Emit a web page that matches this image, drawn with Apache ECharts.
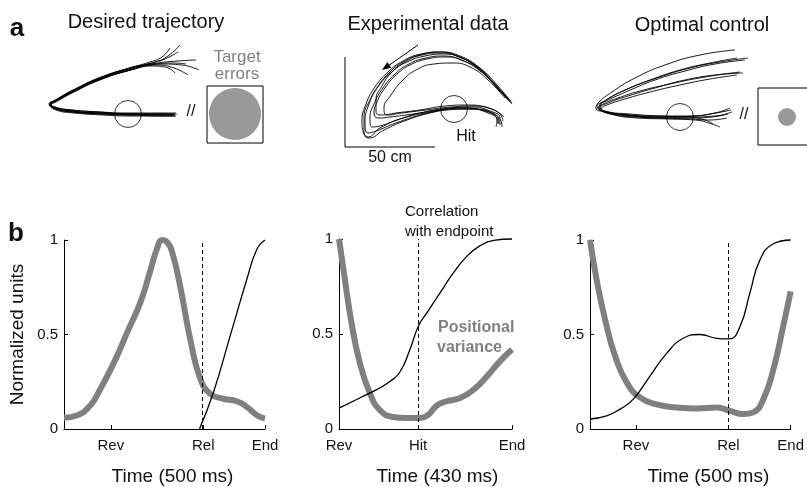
<!DOCTYPE html>
<html><head><meta charset="utf-8">
<script src="https://cdn.jsdelivr.net/npm/echarts@6/dist/echarts.min.js"></script>
<style>html,body{margin:0;padding:0;background:#fff}#c{width:807px;height:487px}</style>
</head><body><div id="c"></div>
<script>
// ---------- panel b data (time normalised 0..1 within each movement) ----------
const ticks1 = [0.233, 0.693, 1];  const tickNames1 = ['Rev', 'Rel', 'End'];
const ticks2 = [0, 0.457, 1];      const tickNames2 = ['Rev', 'Hit', 'End'];
const ticks3 = [0.229, 0.69, 1];   const tickNames3 = ['Rev', 'Rel', 'End'];
const yTicks = [0, 0.5, 1];        const yTickNames = ['0', '0.5', '1'];
const xTitles = ['Time (500 ms)', 'Time (430 ms)', 'Time (500 ms)'];
const eventLine = [0.693, 0.457, 0.69];

const var1X = [0, 0.066, 0.132, 0.18, 0.248, 0.314, 0.38, 0.43, 0.463, 0.488, 0.512, 0.537, 0.578, 0.628, 0.678, 0.727, 0.793, 0.86, 0.909, 0.96, 1.0];
const var1Y = [0.06, 0.073, 0.126, 0.21, 0.35, 0.51, 0.67, 0.84, 0.955, 1.0, 0.99, 0.94, 0.755, 0.475, 0.266, 0.187, 0.16, 0.147, 0.117, 0.073, 0.056];
const corr1X = [0.674, 0.744, 0.826, 0.909, 0.959, 1.0];
const corr1Y = [0, 0.196, 0.49, 0.79, 0.95, 1.0];

const var2X = [0, 0.029, 0.072, 0.12, 0.178, 0.236, 0.313, 0.39, 0.468, 0.516, 0.565, 0.623, 0.70, 0.778, 0.855, 0.93, 1.0];
const var2Y = [1.0, 0.82, 0.56, 0.35, 0.19, 0.10, 0.063, 0.058, 0.058, 0.075, 0.123, 0.146, 0.163, 0.207, 0.277, 0.356, 0.418];
const corr2X = [0, 0.12, 0.217, 0.294, 0.352, 0.41, 0.458, 0.507, 0.584, 0.66, 0.74, 0.816, 0.894, 1.0];
const corr2Y = [0.11, 0.163, 0.207, 0.25, 0.30, 0.418, 0.54, 0.61, 0.716, 0.82, 0.91, 0.965, 0.993, 1.0];

const var3X = [0, 0.033, 0.075, 0.125, 0.183, 0.249, 0.332, 0.432, 0.532, 0.631, 0.698, 0.764, 0.814, 0.864, 0.914, 0.963, 1.0];
const var3Y = [1.0, 0.79, 0.58, 0.386, 0.246, 0.167, 0.13, 0.114, 0.109, 0.114, 0.096, 0.079, 0.088, 0.158, 0.316, 0.544, 0.728];
const corr3X = [0, 0.083, 0.15, 0.216, 0.299, 0.382, 0.465, 0.548, 0.631, 0.694, 0.748, 0.797, 0.847, 0.914, 1.0];
const corr3Y = [0.053, 0.07, 0.105, 0.158, 0.28, 0.40, 0.48, 0.50, 0.48, 0.477, 0.544, 0.72, 0.895, 0.98, 1.0];

// ---------- panel a data (hand-traced hand paths, figure units) ----------
const desiredTraj = [
  [[180,45],[168,56],[155,62],[130,68],[100,78],[74,90],[56,100],[50,104],[55,108],[72,111],[100,113],[130,114],[160,114],[175,114]],
  [[178,52],[165,59],[152,63],[128,69],[99,79],[73,91],[55,101],[50,105],[56,109],[73,112],[101,114],[131,115],[160,115],[174,115]],
  [[196,60],[178,61],[158,63],[131,68],[101,77],[75,89],[57,99],[51,104],[55,107],[72,110],[100,112],[130,113],[160,113],[176,113]],
  [[199,70],[182,65],[160,64],[132,69],[102,78],[76,90],[57,100],[50,103],[54,107],[71,110],[99,112],[129,114],[161,114],[175,115]],
  [[186,64],[172,63],[156,64],[130,70],[100,80],[74,92],[56,102],[51,105],[56,109],[74,112],[102,114],[132,115],[162,116],[176,116]],
  [[175,73],[165,67],[150,66],[127,71],[98,80],[72,92],[54,102],[50,105],[56,110],[74,113],[103,115],[133,116],[163,116],[175,116]],
  [[188,75],[174,68],[157,65],[131,70],[101,79],[75,91],[56,101],[50,104],[55,108],[73,112],[101,113],[131,114],[160,114],[177,114]],
  [[170,48],[162,57],[150,62],[126,69],[98,79],[72,91],[55,101],[49,104],[54,108],[71,111],[98,113],[129,114],[158,115],[173,115]]
];
const experimentalTraj = [
  [[512,103],[497,85],[480,68],[462,58],[445,54],[425,56],[407,62],[393,71],[380,84],[370,100],[364,117],[364,132],[368,137],[380,128],[400,119],[425,112],[450,108],[472,107],[490,111],[500,118],[500,125]],
  [[510,102],[494,84],[477,67],[459,57],[441,53],[422,55],[405,62],[392,72],[382,86],[376,100],[376,112],[381,115],[396,113],[420,110],[445,106],[468,105],[488,108],[500,114],[503,121]],
  [[508,100],[492,82],[475,66],[457,56],[439,52],[420,55],[403,62],[389,73],[377,88],[369,104],[365,122],[368,133],[376,131],[396,123],[421,115],[447,110],[470,109],[488,113],[497,120],[496,127]],
  [[511,101],[496,86],[479,70],[461,60],[444,56],[426,58],[409,64],[395,74],[383,88],[374,104],[370,118],[372,127],[380,126],[400,119],[425,113],[451,109],[476,109],[492,113],[501,121],[502,127]],
  [[505,98],[488,80],[470,67],[452,63],[434,64],[416,70],[402,81],[391,95],[384,108],[387,115],[402,113],[426,110],[451,107],[476,106],[494,110],[504,117]],
  [[509,100],[494,83],[478,67],[460,56],[441,52],[421,54],[403,61],[388,72],[375,87],[366,104],[362,121],[364,134],[369,138],[384,130],[407,120],[434,112],[460,108],[482,110],[496,117],[498,124]],
  [[512,104],[498,89],[482,72],[464,61],[446,57],[427,59],[410,65],[396,75],[385,88],[377,102],[374,113],[378,118],[390,117],[413,114],[439,110],[463,108],[485,111],[498,118],[499,124]]
];
const optimalTraj = [
  [[735,50],[700,55],[665,65],[635,78],[612,92],[598,103],[596,108],[605,112],[630,115],[660,116],[690,116],[715,113],[730,108]],
  [[748,58],[720,62],[690,68],[660,77],[630,88],[608,99],[600,106],[605,111],[630,114],[660,116],[690,117],[715,116],[732,112]],
  [[737,58],[710,63],[680,70],[650,80],[625,90],[606,100],[599,107],[606,112],[632,116],[662,118],[692,118],[712,117],[728,114]],
  [[743,73],[715,75],[685,80],[655,88],[628,96],[608,103],[600,108],[608,113],[635,117],[665,118],[690,119],[710,120],[727,118]],
  [[737,75],[710,79],[680,85],[650,92],[625,99],[607,105],[601,109],[610,114],[638,118],[668,119],[695,120],[712,124],[720,127]],
  [[745,60],[715,64],[685,71],[655,80],[628,91],[606,101],[597,106],[603,111],[628,115],[658,117],[688,117],[705,120],[713,124]],
  [[740,72],[705,77],[670,84],[640,91],[618,98],[603,104],[598,108],[607,112],[634,116],[664,117],[694,116],[716,113],[731,110]]
];
const targetPos = [[128,114],[454,109],[680,117]];
const errorLeft = [[235,114]];
const errorRight = [[787,117]];

// ---------- build chart ----------
const FONT = 'Liberation Sans, Arial, sans-serif';
const TXT = '#111';
const zip = (xs, ys) => xs.map((x, i) => [x, ys[i]]);
const grids = [
  {left: 64, top: 240, width: 201, height: 190},
  {left: 339, top: 239, width: 173, height: 190},
  {left: 590, top: 240, width: 201, height: 190}
];
const namePad = [16, 24, 36];
const xTicks = [ticks1, ticks2, ticks3];
const xNames = [tickNames1, tickNames2, tickNames3];

function nameOf(v, pos, names) {
  for (let i = 0; i < pos.length; i++) if (Math.abs(pos[i] - v) < 1e-6) return names[i];
  return '';
}

const grid = [{left: 0, top: 0, width: 807, height: 487}].concat(grids);
const xAxis = [{gridIndex: 0, type: 'value', min: 0, max: 807, show: false}];
const yAxis = [{gridIndex: 0, type: 'value', min: 0, max: 487, inverse: true, show: false}];
for (let g = 0; g < 3; g++) {
  xAxis.push({
    gridIndex: g + 1, type: 'value', min: 0, max: 1,
    name: xTitles[g], nameLocation: 'middle', nameGap: 38,
    nameTextStyle: {fontSize: 19, color: TXT, fontFamily: FONT, padding: [0, 0, 0, namePad[g]]},
    axisLine: {lineStyle: {color: '#000', width: 1}},
    axisTick: {show: true, inside: true, length: 4, customValues: xTicks[g], lineStyle: {color: '#000'}},
    axisLabel: {customValues: xTicks[g], formatter: v => nameOf(v, xTicks[g], xNames[g]),
      fontSize: 15, color: TXT, fontFamily: FONT, margin: 9},
    splitLine: {show: false}
  });
  yAxis.push({
    gridIndex: g + 1, type: 'value', min: 0, max: 1,
    name: g === 0 ? 'Normalized units' : '', nameLocation: 'middle', nameGap: 37,
    nameTextStyle: {fontSize: 19, color: TXT, fontFamily: FONT},
    axisLine: {show: true, lineStyle: {color: '#000', width: 1}},
    axisTick: {show: true, inside: true, length: 4, customValues: yTicks, lineStyle: {color: '#000'}},
    axisLabel: {customValues: yTicks, formatter: v => nameOf(v, yTicks, yTickNames),
      fontSize: 15, color: TXT, fontFamily: FONT, margin: 6},
    splitLine: {show: false}
  });
}

const series = [];
const trajStyle = {color: '#000', width: 0.9};
[desiredTraj, experimentalTraj, optimalTraj].forEach(set => set.forEach(tr => {
  series.push({type: 'line', xAxisIndex: 0, yAxisIndex: 0, data: tr, smooth: 0.5,
    showSymbol: false, silent: true, lineStyle: trajStyle, clip: false, z: 2});
}));
series.push({type: 'scatter', xAxisIndex: 0, yAxisIndex: 0, data: targetPos, symbol: 'circle', symbolSize: 27,
  itemStyle: {color: 'rgba(0,0,0,0)', borderColor: '#000', borderWidth: 1}, silent: true, z: 3});
series.push({type: 'scatter', xAxisIndex: 0, yAxisIndex: 0, data: errorLeft, symbol: 'circle', symbolSize: 52,
  itemStyle: {color: '#808080'}, silent: true, z: 3});
series.push({type: 'scatter', xAxisIndex: 0, yAxisIndex: 0, data: errorRight, symbol: 'circle', symbolSize: 18,
  itemStyle: {color: '#808080'}, silent: true, z: 3});

const varData = [zip(var1X, var1Y), zip(var2X, var2Y), zip(var3X, var3Y)];
const corrData = [zip(corr1X, corr1Y), zip(corr2X, corr2Y), zip(corr3X, corr3Y)];
for (let g = 0; g < 3; g++) {
  series.push({type: 'line', xAxisIndex: g + 1, yAxisIndex: g + 1, data: varData[g], smooth: 0.5,
    showSymbol: false, clip: false, silent: true,
    lineStyle: {color: '#808080', width: 6}, z: 3});
  series.push({type: 'line', xAxisIndex: g + 1, yAxisIndex: g + 1, data: corrData[g], smooth: 0.5,
    showSymbol: false, clip: false, silent: true,
    lineStyle: {color: '#000', width: 1.3}, z: 4,
    markLine: {symbol: 'none', silent: true, label: {show: false},
      lineStyle: {type: [4, 3], color: '#000', width: 1}, data: [{xAxis: eventLine[g]}]}});
}

const T = (text, x, y, size, opts) => Object.assign({type: 'text', z: 10, style: Object.assign({
  text, x, y, fill: TXT, fontSize: size, fontFamily: FONT, align: 'center', verticalAlign: 'middle'}, opts || {})});
const graphic = [
  T('a', 17, 29, 26, {fontWeight: 'bold'}),
  T('b', 16, 234, 26, {fontWeight: 'bold'}),
  T('Desired trajectory', 146, 22, 20),
  T('Experimental data', 428, 24, 20),
  T('Optimal control', 702, 25, 20),
  T('Target', 237, 57, 17, {fill: '#808080'}),
  T('errors', 237, 74, 17, {fill: '#808080'}),
  T('//', 191, 112, 16),
  T('//', 744, 115, 16),
  T('Hit', 466, 137, 16),
  T('50 cm', 390, 158, 16),
  T('Correlation', 405, 212, 15, {align: 'left'}),
  T('with endpoint', 405, 232, 15, {align: 'left'}),
  T('Positional', 438, 328, 16, {align: 'left', fill: '#808080', fontWeight: 'bold'}),
  T('variance', 437, 348, 16, {align: 'left', fill: '#808080', fontWeight: 'bold'}),
  {type: 'rect', shape: {x: 207, y: 86, width: 56, height: 57}, style: {fill: 'none', stroke: '#000', lineWidth: 1}},
  {type: 'rect', shape: {x: 758, y: 88, width: 60, height: 57}, style: {fill: 'none', stroke: '#000', lineWidth: 1}},
  {type: 'polyline', shape: {points: [[345, 57], [345, 147], [435, 147]]}, style: {fill: 'none', stroke: '#000', lineWidth: 1}},
  {type: 'line', shape: {x1: 418, y1: 45, x2: 388, y2: 66}, style: {stroke: '#000', lineWidth: 1}},
  {type: 'polygon', shape: {points: [[382, 70], [391.4, 67.8], [387.4, 62]]}, style: {fill: '#000'}}
];

const chart = echarts.init(document.getElementById('c'), null, {renderer: 'canvas'});
chart.setOption({animation: false, backgroundColor: '#fff', grid, xAxis, yAxis, series, graphic,
  textStyle: {fontFamily: FONT}});
</script></body></html>
